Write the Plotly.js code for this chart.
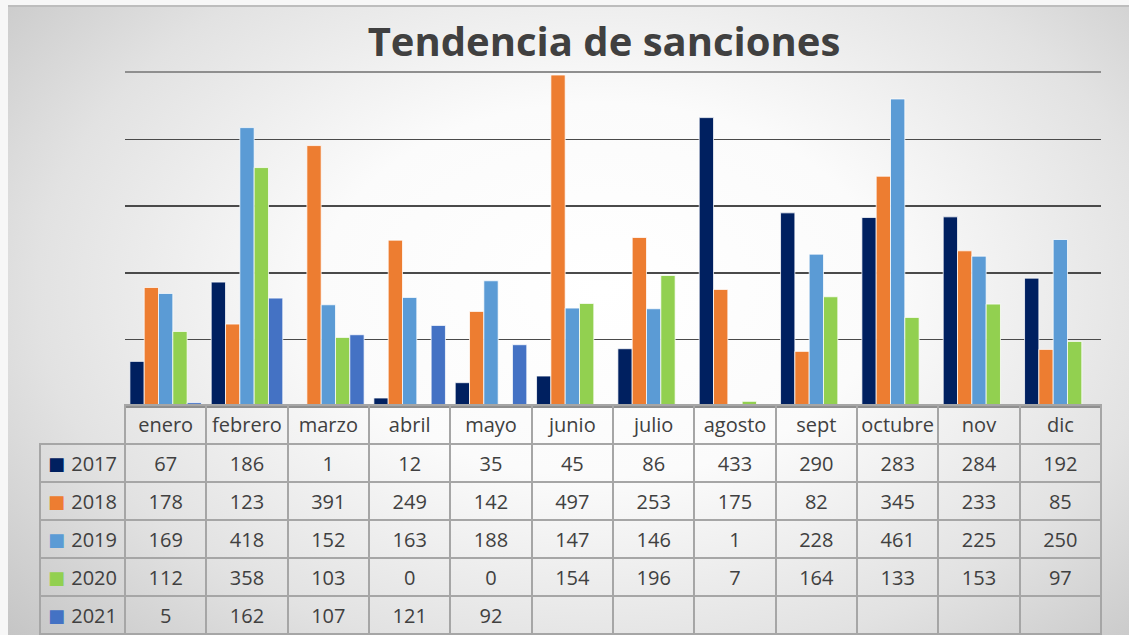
<!DOCTYPE html>
<html>
<head>
<meta charset="utf-8">
<script src="https://cdn.plot.ly/plotly-3.0.1.min.js"></script>
<style>
  html, body { margin: 0; padding: 0; background: #f7f7f7; }
  #wrap { position: relative; width: 1129px; height: 635px; overflow: hidden; background: #f7f7f7; }
  #bg { position: absolute; left: 8px; top: 5px; right: 0; bottom: 0;
        border-top: 2px solid #bdbdbd;
        background: radial-gradient(ellipse 72% 85% at 53% 45%, #ffffff 0%, #fbfbfb 35%, #e2e2e2 70%, #c3c3c3 100%); }
  #chart { position: absolute; left: 0; top: 0; width: 1129px; height: 639px; }
</style>
</head>
<body>
<div id="wrap">
  <div id="bg"></div>
  <div id="chart"></div>
</div>
<script>
const months = ["enero","febrero","marzo","abril","mayo","junio","julio","agosto","sept","octubre","nov","dic"];
const years = ["2017","2018","2019","2020","2021"];
const y2017 = [67,186,1,12,35,45,86,433,290,283,284,192];
const y2018 = [178,123,391,249,142,497,253,175,82,345,233,85];
const y2019 = [169,418,152,163,188,147,146,1,228,461,225,250];
const y2020 = [112,358,103,0,0,154,196,7,164,133,153,97];
const y2021 = [5,162,107,121,92,null,null,null,null,null,null,null];
const colors = ["#002060","#ED7D31","#5B9BD5","#92D050","#4472C4"];

const series = [y2017,y2018,y2019,y2020,y2021];
const W = 1129, H = 639;           // layout is 4px taller than the visible window
const plotL = 125, plotR = 1101, plotT = 73, plotB = 406, tableL = 40;
const textShift = 4;
const fy = px => (H - px) / H;
const font = { family: "Open Sans, sans-serif", size: 20, color: "#404040" };
const clear = "rgba(0,0,0,0)";

const traces = series.map((s, i) => ({
  type: "bar",
  name: years[i],
  x: months,
  y: s,
  marker: { color: colors[i], line: { color: "rgba(255,255,255,0.75)", width: 1 } },
  xaxis: "x", yaxis: "y",
  hoverinfo: "skip"
}));

const colW = [plotL - tableL].concat(months.map(() => (plotR - plotL) / months.length));
const blankHeader = [""].concat(months.map(() => ""));
const blankCells = colW.map(() => years.map(() => ""));

// table A: grid lines only
traces.push({
  type: "table",
  domain: { x: [tableL / W, plotR / W], y: [fy(635), fy(plotB - 1)] },
  columnwidth: colW,
  header: { values: blankHeader, height: 39, fill: { color: clear },
            line: { color: [clear].concat(months.map(() => "#a6a6a6")), width: 2 }, font: font },
  cells: { values: blankCells, height: 38, fill: { color: clear },
           line: { color: "#a6a6a6", width: 2 }, font: font }
});

// table B: texts (month names, year labels, values)
const textCols = [years].concat(months.map((m, j) =>
  series.map(s => (s[j] === null || s[j] === undefined) ? "" : String(s[j]))));
traces.push({
  type: "table",
  domain: { x: [tableL / W, plotR / W], y: [fy(639), fy(plotB + textShift - 1)] },
  columnwidth: colW,
  header: { values: [""].concat(months), height: 39, align: "center", fill: { color: clear },
            line: { color: clear, width: 0 }, font: font },
  cells: { values: textCols, height: 38, align: ["right"].concat(months.map(() => "center")),
           fill: { color: clear }, line: { color: clear, width: 0 }, font: font }
});

// table C: legend markers
const markerCols = [years.map(() => "■")].concat(months.map(() => years.map(() => "")));
traces.push({
  type: "table",
  domain: { x: [tableL / W, plotR / W], y: [fy(639), fy(plotB + textShift - 1)] },
  columnwidth: colW,
  header: { values: blankHeader, height: 39, fill: { color: clear },
            line: { color: clear, width: 0 }, font: font },
  cells: { values: markerCols, height: 38, align: "left", fill: { color: clear },
           line: { color: clear, width: 0 },
           font: { family: "DejaVu Sans, sans-serif", size: 18,
                   color: [colors].concat(months.map(() => colors)) } }
});

const layout = {
  width: W, height: H,
  margin: { l: 0, r: 0, t: 0, b: 0 },
  paper_bgcolor: clear,
  plot_bgcolor: clear,
  showlegend: false,
  barmode: "group",
  bargap: 0.12,
  bargroupgap: 0,
  title: {
    text: "<b>Tendencia de sanciones</b>",
    font: { family: "Open Sans, sans-serif", size: 40, color: "#404040" },
    x: 604 / W, xanchor: "center",
    y: fy(42), yanchor: "middle"
  },
  xaxis: {
    domain: [plotL / W, plotR / W],
    showticklabels: false, ticks: "",
    showgrid: false, zeroline: false,
    showline: true, mirror: true, linecolor: "#8f8f8f", linewidth: 2,
    fixedrange: true
  },
  yaxis: {
    domain: [fy(plotB), fy(plotT)],
    range: [0, 500],
    tickvals: [100, 200, 300, 400],
    showticklabels: false, ticks: "",
    showgrid: true, gridcolor: "#4a4a4a", gridwidth: 1.6,
    zeroline: false, showline: false,
    fixedrange: true
  }
};

Plotly.newPlot("chart", traces, layout, { staticPlot: true, displayModeBar: false });
</script>
</body>
</html>
